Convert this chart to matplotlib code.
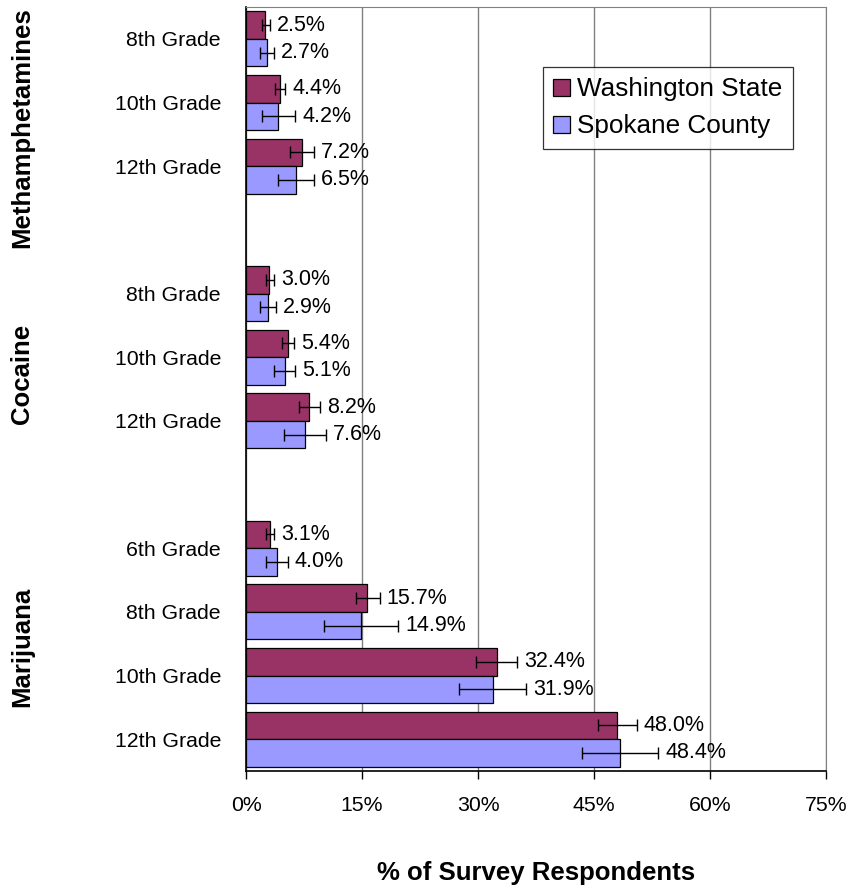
import numpy as np
import matplotlib
matplotlib.use('Agg')
import matplotlib.pyplot as plt
from matplotlib.transforms import blended_transform_factory
from matplotlib.patches import Patch

plt.rcParams['font.family'] = ['Liberation Sans', 'DejaVu Sans']

# data
drugs = ["Methamphetamines", "Cocaine", "Marijuana"]
grades = [["8th Grade", "10th Grade", "12th Grade"],
          ["8th Grade", "10th Grade", "12th Grade"],
          ["6th Grade", "8th Grade", "10th Grade", "12th Grade"]]
wa_values = [2.5, 4.4, 7.2, 3.0, 5.4, 8.2, 3.1, 15.7, 32.4, 48.0]
sc_values = [2.7, 4.2, 6.5, 2.9, 5.1, 7.6, 4.0, 14.9, 31.9, 48.4]
# confidence interval bounds (error bars)
wa_low = [2.1, 3.7, 5.7, 2.6, 4.6, 6.8, 2.6, 14.2, 29.8, 45.5]
wa_high = [3.1, 5.1, 8.8, 3.6, 6.2, 9.6, 3.6, 17.3, 35.1, 50.5]
sc_low = [1.8, 2.1, 4.2, 1.8, 3.6, 4.9, 2.6, 10.1, 27.5, 43.5]
sc_high = [3.6, 6.4, 8.8, 3.9, 6.4, 10.4, 5.4, 19.7, 36.2, 53.3]
series = ["Washington State", "Spokane County"]
wa_color = '#993366'
sc_color = '#9999FF'

# rows: one slot per grade, an empty slot between drugs
pos = []
tick_labels = []
p = 0
for d, gl in zip(drugs, grades):
    for g in gl:
        pos.append(p)
        tick_labels.append(g)
        p += 1
    p += 1
pos = np.array(pos, dtype=float)
last = pos[-1]

fig = plt.figure(figsize=(8.48, 8.90), dpi=100)
ax = fig.add_axes([246/848, 1 - 771/890, 580/848, 764/890])

h = 0.432
wa_vals = np.array(wa_values)
sc_vals = np.array(sc_values)
wa_err = [wa_vals - np.array(wa_low), np.array(wa_high) - wa_vals]
sc_err = [sc_vals - np.array(sc_low), np.array(sc_high) - sc_vals]

ax.barh(pos - h/2, wa_vals, height=h, color=wa_color, edgecolor='black', linewidth=0.9, zorder=3)
ax.barh(pos + h/2, sc_vals, height=h, color=sc_color, edgecolor='black', linewidth=0.9, zorder=3)
ax.errorbar(wa_vals, pos - h/2, xerr=wa_err, fmt='none', ecolor='black', elinewidth=1, capsize=4, capthick=1, zorder=4)
ax.errorbar(sc_vals, pos + h/2, xerr=sc_err, fmt='none', ecolor='black', elinewidth=1, capsize=4, capthick=1, zorder=4)

# value labels just right of the error bar
for v, hi, y in zip(wa_vals, wa_high, pos - h/2):
    ax.annotate(f"{v:.1f}%", (hi, y), xytext=(5, 0), textcoords='offset points',
                ha='left', va='center', fontsize=15.5)
for v, hi, y in zip(sc_vals, sc_high, pos + h/2):
    ax.annotate(f"{v:.1f}%", (hi, y), xytext=(5, 0), textcoords='offset points',
                ha='left', va='center', fontsize=15.5)

ax.set_xlim(0, 75)
ax.set_xticks([0, 15, 30, 45, 60, 75])
ax.set_xticklabels([f"{t}%" for t in [0, 15, 30, 45, 60, 75]], fontsize=15.3)
ax.set_ylim(last + 0.5, -0.5)
ax.set_yticks(pos)
ax.set_yticklabels(tick_labels, fontsize=15.3)
ax.tick_params(axis='y', length=0, pad=18)
ax.tick_params(axis='x', direction='out', length=6, width=1, pad=12)
ax.grid(axis='x', color='#808080', linewidth=1, zorder=0)
for s in ['top', 'right']:
    ax.spines[s].set_color('#808080')
for s in ['left', 'bottom']:
    ax.spines[s].set_color('black')
    ax.spines[s].set_linewidth(1.2)

ax.set_xlabel("% of Survey Respondents", fontsize=18.5, fontweight='bold')
ax.xaxis.set_label_coords(0.5, -102/764)
ax.xaxis.label.set_va('center')

# drug names, rotated, at left edge
trans = blended_transform_factory(fig.transFigure, ax.transData)
drug_label_y = [1.40, 5.26, 9.55]
for d, y in zip(drugs, drug_label_y):
    ax.text(22/848, y, d, transform=trans, rotation=90, ha='center', va='center',
            fontsize=18.5, fontweight='bold')

handles = [Patch(facecolor=wa_color, edgecolor='black', linewidth=0.9),
           Patch(facecolor=sc_color, edgecolor='black', linewidth=0.9)]
leg = ax.legend(handles, series, loc='upper left', bbox_to_anchor=(543/848, 1 - 67/890),
                bbox_transform=fig.transFigure, fontsize=18.8, frameon=True, fancybox=False,
                borderaxespad=0, handlelength=0.65, handleheight=0.65, handletextpad=0.25,
                labelspacing=0.5, borderpad=0.4)
leg.get_frame().set_edgecolor('black')
leg.get_frame().set_linewidth(0.9)
leg.set_zorder(5)

fig.savefig('out.png', dpi=100)
